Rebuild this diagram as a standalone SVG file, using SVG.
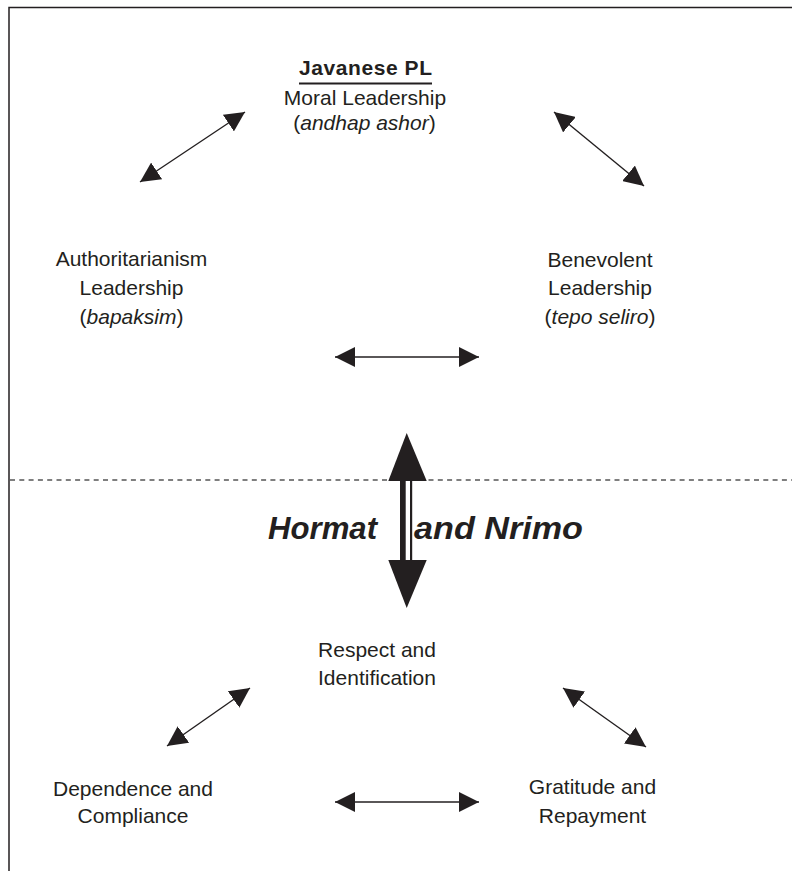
<svg xmlns="http://www.w3.org/2000/svg" width="792" height="871" viewBox="0 0 792 871">
<style>
.t{font-family:"Liberation Sans",Arial,sans-serif;font-size:21px;fill:#231f20;text-anchor:middle}
.i{font-style:italic}
.b{font-weight:bold}
.hn{font-family:"Liberation Sans",Arial,sans-serif;font-size:31px;font-weight:bold;font-style:italic;fill:#231f20}
.c{stroke:#231f20;stroke-width:1.4;fill:none}
.frame{stroke:#231f20;stroke-width:1.5;fill:none}
.dash{stroke:#555;stroke-width:1.5;stroke-dasharray:5 4.3;fill:none}
</style>
<defs>
<marker id="ah" viewBox="0 0 20 20" markerWidth="20" markerHeight="20" refX="20" refY="10" orient="auto-start-reverse" markerUnits="userSpaceOnUse">
<path d="M0,0 L20,10 L0,20 z" fill="#231f20"/>
</marker>
</defs>
<rect width="792" height="871" fill="#fff"/>
<g id="frame">
<path class="frame" d="M9,871 V7.5 H792"/>
<line class="dash" x1="10" y1="480" x2="792" y2="480"/>
</g>
<g id="connectors">
<line class="c" x1="140" y1="182" x2="245" y2="112" marker-start="url(#ah)" marker-end="url(#ah)"/>
<line class="c" x1="554" y1="112" x2="644" y2="186" marker-start="url(#ah)" marker-end="url(#ah)"/>
<line class="c" x1="335" y1="357" x2="479" y2="357" marker-start="url(#ah)" marker-end="url(#ah)"/>
<line class="c" x1="167" y1="746" x2="250" y2="688" marker-start="url(#ah)" marker-end="url(#ah)"/>
<line class="c" x1="563" y1="688" x2="646" y2="747" marker-start="url(#ah)" marker-end="url(#ah)"/>
<line class="c" x1="335" y1="802" x2="479" y2="802" marker-start="url(#ah)" marker-end="url(#ah)"/>
<g id="big-arrow" fill="#231f20">
<polygon points="406.7,433 388.3,481 426.7,481"/>
<rect x="400" y="481" width="5.7" height="79"/>
<rect x="410" y="481" width="2.2" height="79"/>
<polygon points="388.3,560 426.7,560 406.7,608"/>
</g>
</g>
<g id="node-javanese">
<text class="t b" x="365.5" y="75" textLength="133">Javanese PL</text>
<line x1="299" y1="83.5" x2="432" y2="83.5" stroke="#231f20" stroke-width="2"/>
<text class="t" x="365" y="105">Moral Leadership</text>
<text class="t" x="364.5" y="130">(<tspan class="i">andhap ashor</tspan>)</text>
</g>
<g id="node-authoritarianism">
<text class="t" x="131.5" y="266">Authoritarianism</text>
<text class="t" x="131.5" y="295">Leadership</text>
<text class="t" x="131.5" y="324">(<tspan class="i">bapaksim</tspan>)</text>
</g>
<g id="node-benevolent">
<text class="t" x="600" y="266.5">Benevolent</text>
<text class="t" x="600" y="295">Leadership</text>
<text class="t" x="600" y="323.5">(<tspan class="i">tepo seliro</tspan>)</text>
</g>
<g id="label-hormat">
<text class="hn" x="268" y="539" textLength="109" lengthAdjust="spacingAndGlyphs">Hormat</text>
<text class="hn" x="414" y="539" textLength="169" lengthAdjust="spacingAndGlyphs">and Nrimo</text>
</g>
<g id="node-respect">
<text class="t" x="377" y="657">Respect and</text>
<text class="t" x="377" y="685">Identification</text>
</g>
<g id="node-dependence">
<text class="t" x="133" y="796">Dependence and</text>
<text class="t" x="133" y="823">Compliance</text>
</g>
<g id="node-gratitude">
<text class="t" x="592.5" y="794">Gratitude and</text>
<text class="t" x="592.5" y="822.5">Repayment</text>
</g>
</svg>
